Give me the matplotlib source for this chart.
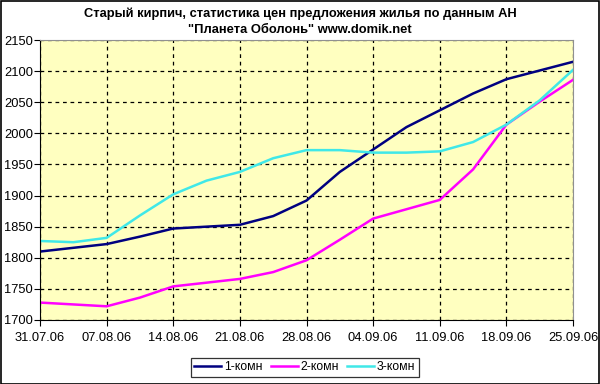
import matplotlib
matplotlib.use("Agg")
import matplotlib.pyplot as plt
from matplotlib.patches import Rectangle

plt.rcParams['font.family'] = ['Liberation Sans', 'DejaVu Sans']

# days since 31.07.06, half-week steps
days = [0, 3.5, 7, 10.5, 14, 17.5, 21, 24.5, 28, 31.5, 35, 38.5, 42, 45.5, 49, 52.5, 56]
room1 = [1810, 1816, 1822, 1834, 1847, 1850, 1853, 1867, 1892, 1938, 1974, 2010, 2037, 2064, 2087, 2101, 2115]
room2 = [1728, 1725, 1722, 1736, 1754, 1760, 1766, 1777, 1796, 1829, 1863, 1878, 1893, 1942, 2014, 2051, 2086]
room3 = [1827, 1825, 1832, 1868, 1902, 1924, 1938, 1960, 1973, 1973, 1969, 1969, 1971, 1986, 2014, 2053, 2102]

tick_days = [0, 7, 14, 21, 28, 35, 42, 49, 56]
tick_labels = ['31.07.06', '07.08.06', '14.08.06', '21.08.06', '28.08.06',
               '04.09.06', '11.09.06', '18.09.06', '25.09.06']
y_ticks = list(range(1700, 2151, 50))

fig = plt.figure(figsize=(6, 3.84), dpi=100)
ax = fig.add_axes([0.0667, 0.1667, 0.8883, 0.7291])
ax.set_facecolor('#FFFFC0')

ax.plot(days, room1, color='#000080', lw=1.8, label='1-комн', solid_joinstyle='round')
ax.plot(days, room2, color='#FF00FF', lw=1.8, label='2-комн', solid_joinstyle='round')
ax.plot(days, room3, color='#40E8E8', lw=1.8, label='3-комн', solid_joinstyle='round')

ax.set_xlim(0, 56)
ax.set_ylim(1700, 2150)
ax.set_xticks(tick_days)
ax.set_xticklabels(tick_labels)
ax.set_yticks(y_ticks)
ax.tick_params(axis='both', labelsize=9.3, length=4, direction='out', color='black')
ax.tick_params(axis='x', pad=5)
ax.tick_params(axis='y', pad=1)
ax.grid(True, color='black', linestyle=(0, (3, 3)), linewidth=0.9)

for s in ['top', 'right']:
    ax.spines[s].set_color('#909090')
for s in ['left', 'bottom']:
    ax.spines[s].set_color('black')

fig.text(0.5, 0.965, 'Старый кирпич, статистика цен предложения жилья по данным АН',
         ha='center', va='center', fontsize=9.3, fontweight='bold')
fig.text(0.5, 0.922, '"Планета Оболонь" www.domik.net',
         ha='center', va='center', fontsize=9.3, fontweight='bold')

leg = ax.legend(loc='center', bbox_to_anchor=(0.508, 0.043), bbox_transform=fig.transFigure,
                ncol=3, fontsize=8.8, frameon=True, fancybox=False, handlelength=2.2,
                handletextpad=0.2, columnspacing=0.7, borderpad=0.3, borderaxespad=0)
leg.get_frame().set_edgecolor('black')
leg.get_frame().set_linewidth(0.9)

fig.patches.append(Rectangle((0.001, 0.001), 0.997, 0.996, transform=fig.transFigure,
                             fill=False, edgecolor='black', linewidth=1.2))

fig.savefig('out.png', dpi=100)
